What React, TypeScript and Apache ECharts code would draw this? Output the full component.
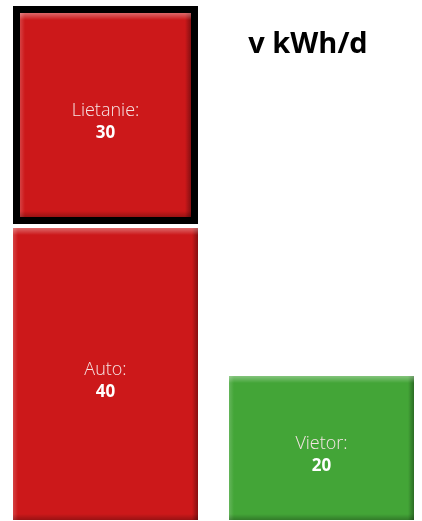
import React, { useEffect, useRef } from 'react';
import * as echarts from 'echarts';

const categories = ['Auto', 'Lietanie', 'Vietor'];
const values = [40, 30, 20];
const columns = [0, 0, 1];
const colors = ['#CC181A', '#CC181A', '#43A537'];
const highlighted = ['Lietanie'];
const titleText = 'v kWh/d';

export default function App() {
  const ref = useRef<HTMLDivElement>(null);
  useEffect(() => {
    if (!ref.current) return;
    const chart = echarts.init(ref.current, null, { renderer: 'svg' });
    const colTotals: number[] = [];
    const data = categories.map((name, i) => {
      const c = columns[i];
      const base = colTotals[c] || 0;
      colTotals[c] = base + values[i];
      return { value: [c, base, base + values[i], values[i]], name, itemStyle: { color: colors[i] } };
    });
    const yMax = Math.max(...colTotals);
    const font = '"Open Sans", sans-serif';
    const renderItem = (params: any, api: any) => {
      const col = api.value(0);
      const b = api.value(1);
      const t = api.value(2);
      const v = api.value(3);
      const name = categories[params.dataIndex];
      const color = colors[params.dataIndex];
      const p0 = api.coord([col, b]);
      const p1 = api.coord([col, t]);
      const cellW = api.size([1, 0])[0];
      const w = cellW * (185 / 216);
      const x0 = p0[0] - w / 2;
      const gap = 2;
      let y0 = p1[1] + gap;
      let y1 = p0[1] - gap;
      let x = x0;
      let ww = w;
      const children: any[] = [];
      const isHi = highlighted.indexOf(name) >= 0;
      if (isHi) {
        children.push({ type: 'rect', shape: { x, y: y0, width: ww, height: y1 - y0 }, style: { fill: '#000' } });
        const bw = 7;
        x += bw; ww -= 2 * bw; y0 += bw; y1 -= bw;
      }
      const h = y1 - y0;
      children.push({ type: 'rect', shape: { x, y: y0, width: ww, height: h }, style: { fill: color } });
      children.push({ type: 'rect', shape: { x, y: y0, width: 5, height: h }, style: { fill: new echarts.graphic.LinearGradient(0, 0, 1, 0, [{ offset: 0, color: 'rgba(255,255,255,0.18)' }, { offset: 1, color: 'rgba(255,255,255,0)' }]) } });
      children.push({ type: 'rect', shape: { x: x + ww - 6, y: y0, width: 6, height: h }, style: { fill: new echarts.graphic.LinearGradient(0, 0, 1, 0, [{ offset: 0, color: 'rgba(0,0,0,0)' }, { offset: 1, color: 'rgba(0,0,0,0.35)' }]) } });
      children.push({ type: 'rect', shape: { x, y: y0, width: ww, height: 7 }, style: { fill: new echarts.graphic.LinearGradient(0, 0, 0, 1, [{ offset: 0, color: 'rgba(255,255,255,0.35)' }, { offset: 1, color: 'rgba(255,255,255,0)' }]) } });
      children.push({ type: 'rect', shape: { x, y: y1 - 6, width: ww, height: 6 }, style: { fill: new echarts.graphic.LinearGradient(0, 0, 0, 1, [{ offset: 0, color: 'rgba(0,0,0,0)' }, { offset: 1, color: 'rgba(0,0,0,0.25)' }]) } });
      const cx = x + ww / 2;
      const cy = (p1[1] + p0[1]) / 2 + 5;
      children.push({
        type: 'text',
        x: cx,
        y: cy,
        style: {
          text: `{n|${name}:}\n{v|${v}}`,
          align: 'center',
          verticalAlign: 'middle',
          rich: {
            n: { fontFamily: font, fontSize: 18, fontWeight: 300, fill: '#F6E4E4', lineHeight: 23 },
            v: { fontFamily: font, fontSize: 17, fontWeight: 'bold', fill: '#ffffff', lineHeight: 23 },
          },
        },
      });
      return { type: 'group', children };
    };
    chart.setOption({
      animation: false,
      grid: { left: 0, right: 0, top: 4, bottom: 0 },
      xAxis: { type: 'value', min: -105.5 / 216, max: -105.5 / 216 + 422 / 216, show: false },
      yAxis: { type: 'value', min: 1 / 7.4, max: yMax, show: false },
      graphic: [
        {
          type: 'text',
          x: 308,
          y: 41,
          style: { text: titleText, fontFamily: font, fontSize: 29, fontWeight: 'bold', fill: '#000', align: 'center', verticalAlign: 'middle' },
        },
      ],
      series: [
        {
          type: 'custom',
          renderItem,
          data,
          encode: { x: 0, y: [1, 2] },
          clip: false,
        },
      ],
    });
    return () => chart.dispose();
  }, []);
  return <div ref={ref} style={{ position: 'fixed', left: 0, top: 0, width: 422, height: 521 }} />;
}
